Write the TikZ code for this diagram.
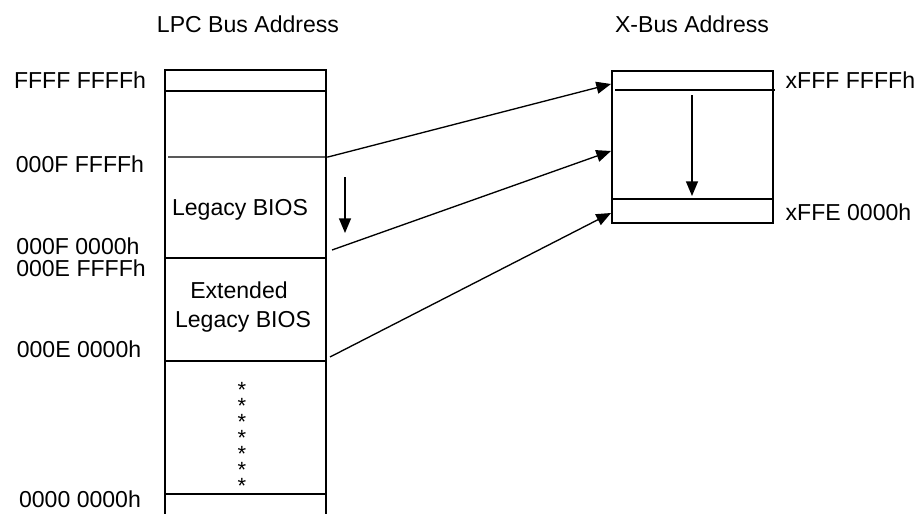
\documentclass[tikz,border=0pt]{standalone}
\usepackage{fontspec}
\setmainfont{Liberation Sans}
\usetikzlibrary{arrows.meta}
\begin{document}
\begin{tikzpicture}[x=0.75pt,y=-0.75pt,
  line width=1pt,
  lbl/.style={inner sep=0pt,anchor=base,font=\fontsize{17.3}{20}\selectfont},
  rlbl/.style={inner sep=0pt,anchor=base west,font=\fontsize{17.3}{20}\selectfont},
  star/.style={inner sep=0pt,anchor=base,text height=5pt,text depth=0pt,font=\fontsize{16.5}{16}\selectfont},
  arr/.style={-{Triangle[length=11pt,width=9pt]}}]
\useasboundingbox (0,0) rectangle (922,514);
% titles
\node[lbl] (tl) at (248,32) {LPC Bus Address};
\node[lbl] (tr) at (692,32) {X-Bus Address};
% left column
\draw (165,514) -- (165,70) -- (326,70) -- (326,514);
\draw (165,91) -- (326,91);
\coordinate (s1) at (168,157);
\coordinate (e1) at (328,157);
\draw (165,258) -- (326,258);
\draw (165,361) -- (326,361);
\draw (165,494) -- (326,494);
% left labels
\node[lbl] (a1) at (80,88) {FFFF FFFFh};
\node[lbl] (a2) at (80,172) {000F FFFFh};
\node[lbl] (a3) at (78,254) {000F 0000h};
\node[lbl] (a4) at (81,276) {000E FFFFh};
\node[lbl] (a5) at (79,357) {000E 0000h};
\node[lbl] (a6) at (80,507) {0000 0000h};
% block labels
\node[lbl] (lb) at (240,215) {Legacy BIOS};
\node[lbl] (ex1) at (239,298) {Extended};
\node[lbl] (ex2) at (243,327) {Legacy BIOS};
% stars
\foreach \i in {0,...,6} {
  \node[star] (st\i) at (242,{397+16*\i}) {*};
}
% small down arrow left
\coordinate (d1) at (345,177);
\coordinate (d2) at (345,233);
\draw[arr] (d1) -- (d2);
% right box
\draw (612,71) rectangle (773,223);
\draw (615,90) -- (775,90);
\draw (612,199) -- (773,199);
\coordinate (d3) at (692,95);
\coordinate (d4) at (692,196);
\draw[arr] (d3) -- (d4);
\node[rlbl] (b1) at (785,88) {xFFF FFFFh};
\node[rlbl] (b2) at (785,220) {xFFE 0000h};
% mapping arrows
\coordinate (t1) at (611,84);
\coordinate (s2) at (332,250);
\coordinate (t2) at (611,151);
\coordinate (s3) at (330,357);
\coordinate (t3) at (611,213);
\draw[arr] (s1) -- (e1) -- (t1);
\draw[arr] (s2) -- (t2);
\draw[arr] (s3) -- (t3);
\end{tikzpicture}
\end{document}
